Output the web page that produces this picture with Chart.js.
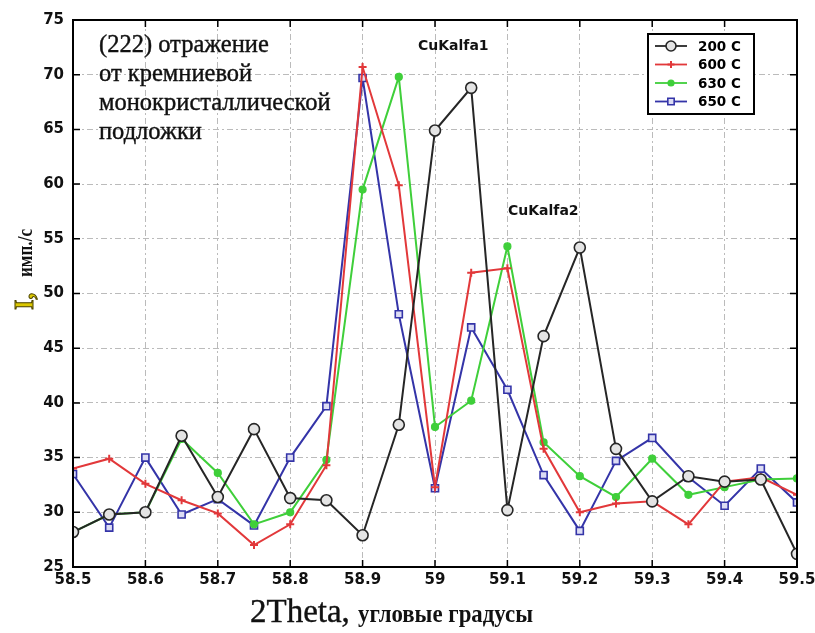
<!DOCTYPE html>
<html>
<head>
<meta charset="utf-8">
<script src="https://cdn.jsdelivr.net/npm/chart.js@4.4.1/dist/chart.umd.min.js"></script>
<style>
  html, body { margin: 0; padding: 0; background: #fff; }
  #wrap { width: 815px; height: 633px; position: relative; }
</style>
</head>
<body>
<div id="wrap"><canvas id="c" width="815" height="633"></canvas></div>
<script>
// 2Theta scan positions, degrees
const angles = [58.5, 58.55, 58.6, 58.65, 58.7, 58.75, 58.8, 58.85, 58.9, 58.95, 59.0,
                59.05, 59.1, 59.15, 59.2, 59.25, 59.3, 59.35, 59.4, 59.45, 59.5];

// Intensity, counts/s, for each annealing temperature
const s200 = [28.2, 29.8, 30.0, 37.0, 31.4, 37.6, 31.3, 31.1, 27.9, 38.0, 64.9,
              68.8, 30.2, 46.1, 54.2, 35.8, 31.0, 33.3, 32.8, 33.0, 26.2];
const s600 = [34.0, 34.9, 32.6, 31.1, 29.9, 27.0, 28.9, 34.3, 70.7, 59.9, 32.3,
              51.9, 52.3, 35.8, 30.0, 30.8, 31.0, 28.9, 32.8, 33.2, 31.6];
const s630 = [28.2, 29.8, 30.0, 36.7, 33.6, 28.9, 30.0, 34.8, 59.5, 69.8, 37.8,
              40.2, 54.3, 36.4, 33.3, 31.4, 34.9, 31.6, 32.3, 33.0, 33.1];
const s650 = [33.5, 28.6, 35.0, 29.8, 31.2, 28.8, 35.0, 39.7, 69.7, 48.1, 32.2,
              46.9, 41.2, 33.4, 28.3, 34.7, 36.8, 33.2, 30.6, 34.0, 30.9];

const seriesLabels = ['200 C', '600 C', '630 C', '650 C'];
const xTicks = [58.5, 58.6, 58.7, 58.8, 58.9, 59.0, 59.1, 59.2, 59.3, 59.4, 59.5];
const yTicks = [25, 30, 35, 40, 45, 50, 55, 60, 65, 70, 75];

const noteLines = ['(222) отражение', 'от кремниевой', 'монокристаллической', 'подложки'];

const pts = arr => arr.map((v, i) => ({ x: angles[i], y: v }));

const styles = [
  { color: '#262626', pointStyle: 'circle', radius: 5.5, bg: '#e4e4e4', bw: 1.6 },
  { color: '#e2383a', pointStyle: 'cross',  radius: 4,   bg: '#e2383a', bw: 2.0 },
  { color: '#3fcf3a', pointStyle: 'circle', radius: 3.5, bg: '#3fcf3a', bw: 1.2 },
  { color: '#3434a8', pointStyle: 'rect',   radius: 5,   bg: '#dcdcf4', bw: 1.6 }
];
const series = [s200, s600, s630, s650];

const datasets = series.map((s, i) => ({
  label: seriesLabels[i],
  data: pts(s),
  borderColor: styles[i].color,
  backgroundColor: styles[i].bg,
  borderWidth: 2,
  tension: 0,
  pointStyle: styles[i].pointStyle,
  pointRadius: styles[i].radius,
  pointBorderWidth: styles[i].bw,
  pointBorderColor: styles[i].color,
  pointBackgroundColor: styles[i].bg
}));

// Text that is stretched or squeezed horizontally to a given width
function fitText(ctx, text, x, y, width) {
  const w = ctx.measureText(text).width;
  ctx.save();
  ctx.translate(x, y);
  ctx.scale(width / w, 1);
  ctx.fillText(text, 0, 0);
  ctx.restore();
}

// Frame, inner ticks, annotations, axis titles and legend
const decor = {
  id: 'decor',
  afterDatasetsDraw(chart) {
    const ctx = chart.ctx;
    const a = chart.chartArea;
    const xs = chart.scales.x, ys = chart.scales.y;
    ctx.save();

    // box
    ctx.strokeStyle = '#000';
    ctx.lineWidth = 2;
    ctx.strokeRect(a.left, a.top, a.right - a.left, a.bottom - a.top);

    // inward tick marks on all four sides
    ctx.lineWidth = 1.5;
    ctx.beginPath();
    xTicks.forEach(v => {
      const px = xs.getPixelForValue(v);
      ctx.moveTo(px, a.bottom); ctx.lineTo(px, a.bottom - 7);
      ctx.moveTo(px, a.top);    ctx.lineTo(px, a.top + 7);
    });
    yTicks.forEach(v => {
      const py = ys.getPixelForValue(v);
      ctx.moveTo(a.left, py);  ctx.lineTo(a.left + 7, py);
      ctx.moveTo(a.right, py); ctx.lineTo(a.right - 7, py);
    });
    ctx.stroke();

    // text block
    ctx.fillStyle = '#111';
    ctx.strokeStyle = '#111';
    ctx.lineWidth = 0.4;
    ctx.textAlign = 'left';
    ctx.textBaseline = 'alphabetic';
    ctx.font = '24.5px "Liberation Serif", "DejaVu Serif", serif';
    noteLines.forEach((t, i) => {
      ctx.fillText(t, 99, 52 + i * 29);
      ctx.strokeText(t, 99, 52 + i * 29);
    });

    // line labels
    ctx.font = 'bold 14px "DejaVu Sans", sans-serif';
    ctx.fillText('CuKalfa1', 418, 50);
    ctx.fillText('CuKalfa2', 508, 215);

    // x axis title
    ctx.font = '33px "Liberation Serif", serif';
    ctx.fillText('2Theta,', 250, 622);
    ctx.strokeText('2Theta,', 250, 622);
    ctx.font = 'bold 25px "Liberation Serif", serif';
    fitText(ctx, 'угловые градусы', 358, 622, 175);

    // y axis title
    ctx.save();
    ctx.translate(33, 310);
    ctx.rotate(-Math.PI / 2);
    ctx.font = 'bold 27px "Liberation Serif", serif';
    ctx.fillStyle = '#dcc800';
    ctx.strokeStyle = '#4a4200';
    ctx.lineWidth = 1;
    ctx.fillText('I,', 0, 0);
    ctx.strokeText('I,', 0, 0);
    ctx.font = 'bold 20px "Liberation Serif", serif';
    ctx.fillStyle = '#111';
    fitText(ctx, 'имп./с', 33, -1, 48);
    ctx.restore();

    // legend
    const lx = 648, ly = 34, lw = 106, lh = 80;
    ctx.fillStyle = '#fff';
    ctx.fillRect(lx, ly, lw, lh);
    ctx.strokeStyle = '#000';
    ctx.lineWidth = 2;
    ctx.strokeRect(lx, ly, lw, lh);
    ctx.font = 'bold 13.5px "DejaVu Sans", sans-serif';
    ctx.textBaseline = 'middle';
    chart.data.datasets.forEach((d, i) => {
      const y = ly + 12 + i * 18.5;
      ctx.strokeStyle = d.borderColor;
      ctx.lineWidth = 1.8;
      ctx.beginPath();
      ctx.moveTo(lx + 7, y); ctx.lineTo(lx + 39, y);
      ctx.stroke();
      ctx.fillStyle = d.pointBackgroundColor;
      ctx.lineWidth = d.pointBorderWidth;
      Chart.helpers.drawPoint(ctx, {
        pointStyle: d.pointStyle, radius: d.pointRadius - 0.5, rotation: 0,
        borderWidth: d.pointBorderWidth
      }, lx + 23, y);
      ctx.fillStyle = '#000';
      ctx.fillText(d.label, lx + 50, y + 1);
    });

    ctx.restore();
  }
};

const tickFont = { family: '"DejaVu Sans", sans-serif', size: 15, weight: 'bold' };
const gridColor = 'rgba(120,120,120,0.5)';

new Chart(document.getElementById('c'), {
  type: 'line',
  data: { datasets },
  options: {
    responsive: false,
    animation: false,
    devicePixelRatio: 1,
    layout: { padding: { left: 0, top: 20, right: 18, bottom: 0 } },
    plugins: { legend: { display: false }, tooltip: { enabled: false } },
    scales: {
      x: {
        type: 'linear',
        min: 58.5, max: 59.5,
        afterBuildTicks: s => { s.ticks = xTicks.map(v => ({ value: v })); },
        afterFit: s => { s.height = 66; s.paddingLeft = 0; s.paddingRight = 0; },
        ticks: {
          color: '#111', font: tickFont, padding: 4, maxRotation: 0, autoSkip: false,
          callback: v => String(+v.toFixed(2))
        },
        grid: { color: gridColor, lineWidth: 1, drawTicks: false },
        border: { display: false, dash: [6, 3, 2, 3] }
      },
      y: {
        min: 25, max: 75,
        afterBuildTicks: s => { s.ticks = yTicks.map(v => ({ value: v })); },
        afterFit: s => { s.width = 73; s.paddingTop = 0; s.paddingBottom = 0; },
        ticks: { color: '#111', font: tickFont, padding: 9, autoSkip: false },
        grid: { color: gridColor, lineWidth: 1, drawTicks: false },
        border: { display: false, dash: [6, 3, 2, 3] }
      }
    }
  },
  plugins: [decor]
});
</script>
</body>
</html>
